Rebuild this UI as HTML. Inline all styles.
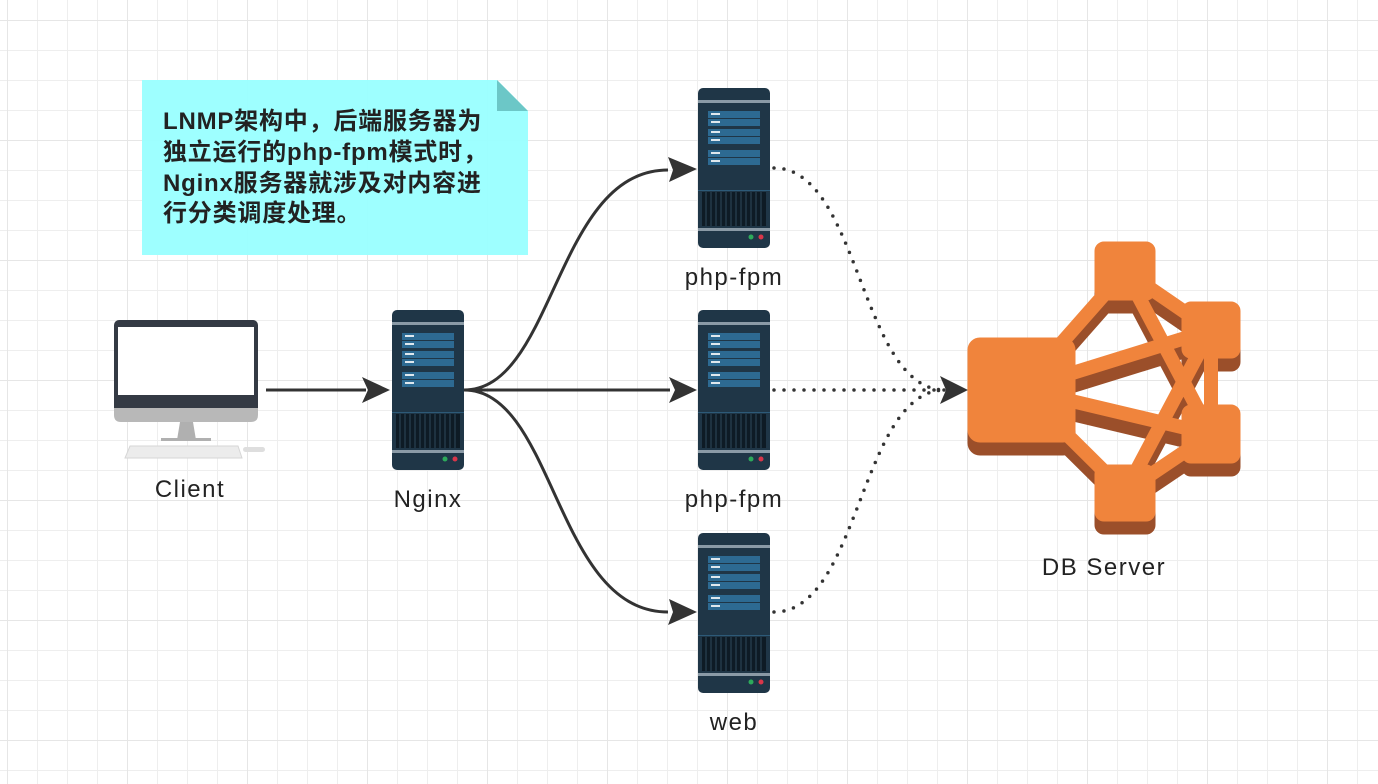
<!DOCTYPE html>
<html><head><meta charset="utf-8"><style>
html,body{margin:0;padding:0;background:#fff;}
svg{display:block;}
text{font-family:"Liberation Sans","Noto Sans CJK SC",sans-serif;fill:#222;}
</style></head><body>
<svg width="1378" height="784" viewBox="0 0 1378 784" xmlns="http://www.w3.org/2000/svg">
<defs>
<pattern id="g" x="7" y="20" width="30" height="30" patternUnits="userSpaceOnUse">
<path d="M0 0H30M0 0V30" stroke="#eeeeee" stroke-width="2" fill="none"/>
</pattern>
<pattern id="G" x="7" y="20" width="120" height="120" patternUnits="userSpaceOnUse">
<path d="M0 0H120M0 0V120" stroke="#e6e6e6" stroke-width="2" fill="none"/>
</pattern>
<g id="srv">
<rect x="0" y="0" width="72" height="160" rx="5" fill="#1f3647"/>
<rect x="0" y="12" width="72" height="3" fill="#8a9aa6"/>
<g fill="#2d6a92">
<rect x="10" y="23" width="52" height="7"/><rect x="10" y="31" width="52" height="7"/>
<rect x="10" y="41" width="52" height="7"/><rect x="10" y="49" width="52" height="7"/>
<rect x="10" y="62" width="52" height="7"/><rect x="10" y="70" width="52" height="7"/>
</g>
<g fill="#dfe8ee">
<rect x="13" y="25" width="9" height="2"/><rect x="13" y="33" width="9" height="2"/>
<rect x="13" y="43" width="9" height="2"/><rect x="13" y="51" width="9" height="2"/>
<rect x="13" y="64" width="9" height="2"/><rect x="13" y="72" width="9" height="2"/>
</g>
<rect x="0" y="102" width="72" height="1" fill="#2d5a78"/>
<rect x="4" y="104" width="64" height="34" fill="#0e1b25"/>
<g stroke="#2a4153" stroke-width="1.2">
<path d="M8 104V138M13 104V138M18 104V138M23 104V138M28 104V138M33 104V138M38 104V138M43 104V138M48 104V138M53 104V138M58 104V138M63 104V138"/>
</g>
<rect x="0" y="140" width="72" height="3" fill="#8a9aa6"/>
<circle cx="53" cy="149" r="2.5" fill="#2daa5b"/>
<circle cx="63" cy="149" r="2.5" fill="#d9364a"/>
</g>
<g id="dbs">
<path d="M1021 389L1125 271M1021 389L1125 492M1021 389L1211 330M1021 389L1211 434M1125 271L1211 330M1125 271L1211 434M1125 492L1211 330M1125 492L1211 434M1211 330L1211 434" stroke-width="14" fill="none"/>
<rect x="968" y="338" width="107" height="104" rx="12"/>
<rect x="1095" y="242" width="60" height="58" rx="9"/>
<rect x="1182" y="302" width="58" height="56" rx="9"/>
<rect x="1182" y="405" width="58" height="58" rx="9"/>
<rect x="1095" y="465" width="60" height="56" rx="9"/>
</g>
</defs>
<rect width="1378" height="784" fill="url(#g)"/>
<rect width="1378" height="784" fill="url(#G)"/>

<!-- note -->
<path d="M142 80H497L528 111V255H142Z" fill="#99ffff" opacity="0.95"/>
<path d="M497 80L528 111H497Z" fill="#6cc7c7"/>
<g font-size="24" font-weight="bold" letter-spacing="0.8">
<text x="163" y="129">LNMP架构中，后端服务器为</text>
<text x="163" y="160">独立运行的php-fpm模式时，</text>
<text x="163" y="191">Nginx服务器就涉及对内容进</text>
<text x="163" y="221">行分类调度处理。</text>
</g>

<!-- client -->
<rect x="114" y="320" width="144" height="96" rx="5" fill="#343a44"/>
<rect x="118" y="327" width="136" height="68" fill="#fff"/>
<path d="M114 408H258V415Q258 422 251 422H121Q114 422 114 415Z" fill="#b8b8b8"/>
<path d="M180 422H193L196 440H177Z" fill="#b0b0b0"/>
<rect x="161" y="438" width="50" height="3" fill="#b0b0b0"/>
<path d="M130 446H238L242 458H125Z" fill="#ececec" stroke="#d6d6d6"/>
<rect x="243" y="447" width="22" height="5" rx="2.5" fill="#dedede"/>
<g font-size="24" text-anchor="middle" letter-spacing="1.5">
<text x="190" y="497">Client</text>
</g>

<!-- connectors -->
<g stroke="#333" stroke-width="3" fill="none">
<path d="M266 390H366"/>
<path d="M464 390H670"/>
<path d="M464 390C555 390 555 170 668 170"/>
<path d="M464 390C555 390 555 612 668 612"/>
</g>
<g fill="#333">
<path d="M390 390L362 377L368 390L362 403Z"/>
<path d="M697 390L669 377L675 390L669 403Z"/>
<path d="M697 169L668 157L673 170L669 182Z"/>
<path d="M697 612L669 599L673 612L668 625Z"/>
</g>
<g stroke="#333" stroke-width="3.5" fill="none" stroke-dasharray="0 10" stroke-linecap="round">
<path d="M774 168C860 168 860 390 945 390"/>
<path d="M774 390H945"/>
<path d="M774 612C860 612 860 390 945 390"/>
</g>
<path d="M968 390L940 376L946 390L940 404Z" fill="#333"/>

<!-- servers -->
<use href="#srv" x="392" y="310"/>
<use href="#srv" x="698" y="88"/>
<use href="#srv" x="698" y="310"/>
<use href="#srv" x="698" y="533"/>
<g font-size="24" text-anchor="middle" letter-spacing="1.5">
<text x="428" y="507">Nginx</text>
<text x="734" y="285">php-fpm</text>
<text x="734" y="507">php-fpm</text>
<text x="734" y="730">web</text>
<text x="1104" y="575">DB Server</text>
</g>

<!-- DB -->
<use href="#dbs" y="13" fill="#9b4f2a" stroke="#9b4f2a"/>
<use href="#dbs" fill="#f0843c" stroke="#f0843c"/>
</svg>
</body></html>
